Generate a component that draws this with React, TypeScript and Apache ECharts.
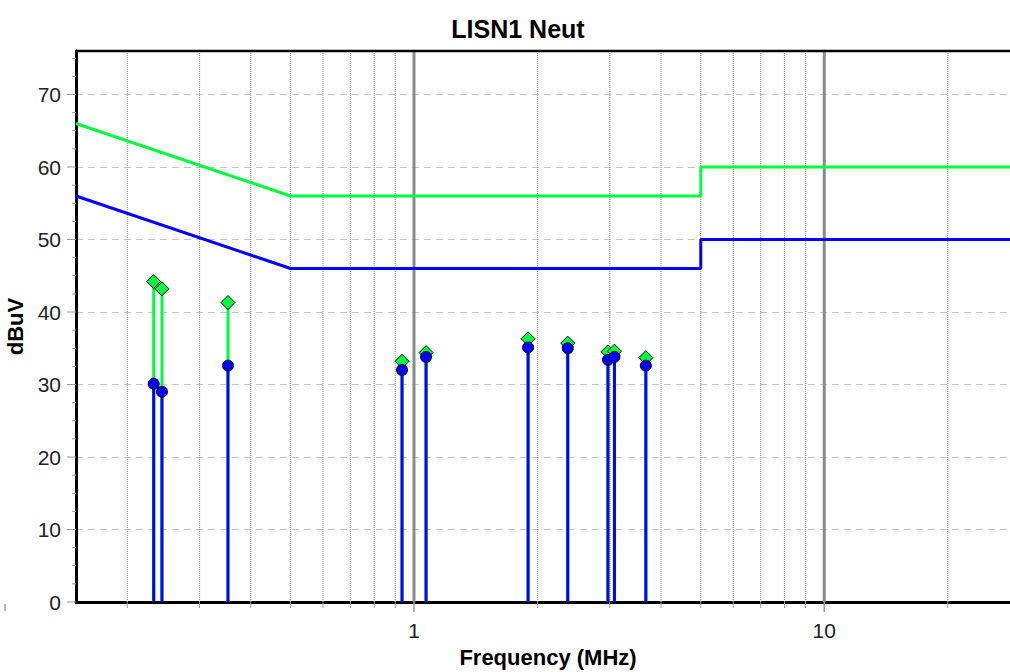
import React, { useEffect, useRef } from 'react';
import * as echarts from 'echarts';

const chartTitle = 'LISN1 Neut';
const xAxisName = 'Frequency (MHz)';
const yAxisName = 'dBuV';
const xLabelValues = [1, 10];
const xMinorGrid = [0.2, 0.3, 0.4, 0.5, 0.6, 0.7, 0.8, 0.9, 2, 3, 4, 5, 6, 7, 8, 9, 20];
const xMajorGrid = [1, 10];
const yMajorTicks = [0, 10, 20, 30, 40, 50, 60, 70];
const yMinorTicks = [2.5, 5, 7.5, 12.5, 15, 17.5, 22.5, 25, 27.5, 32.5, 35, 37.5, 42.5, 45, 47.5, 52.5, 55, 57.5, 62.5, 65, 67.5, 72.5, 75];
const qpLimit = [[0.15, 66], [0.5, 56], [5, 56], [5, 60], [30, 60]];
const avLimit = [[0.15, 56], [0.5, 46], [5, 46], [5, 50], [30, 50]];
const freqs = [0.232, 0.243, 0.352, 0.935, 1.07, 1.897, 2.37, 2.97, 3.08, 3.674];
const qpValues = [44.2, 43.2, 41.3, 33.2, 34.4, 36.3, 35.7, 34.5, 34.6, 33.7];
const avValues = [30.1, 29.0, 32.6, 32.0, 33.8, 35.1, 35.0, 33.4, 33.8, 32.6];

const FONT = "'Liberation Sans', Arial, sans-serif";
const GREEN = '#00ff40';
const BLUE = '#0000ff';
const X_MIN = 0.15;
const X_MAX = 30;
const Y_MIN = 0;
const Y_MAX = 76;
const GRID_LEFT = 76;
const GRID_TOP = 51;
const GRID_W = 944;
const GRID_H = 551;

function stemSeries(name: string, values: number[], color: string, z: number) {
  return {
    name,
    type: 'custom',
    coordinateSystem: 'cartesian2d',
    z,
    silent: true,
    data: freqs.map((f, i) => [f, values[i]]),
    encode: { x: 0, y: 1 },
    renderItem: (params: any, api: any) => {
      const p0 = api.coord([api.value(0), Y_MIN]);
      const p1 = api.coord([api.value(0), api.value(1)]);
      return {
        type: 'line',
        shape: { x1: p0[0], y1: p0[1], x2: p1[0], y2: p1[1] },
        style: { stroke: color, lineWidth: 3 },
      };
    },
  };
}

function vGridSeries(values: number[], major: boolean) {
  return {
    type: 'custom',
    coordinateSystem: 'cartesian2d',
    z: 1,
    silent: true,
    clip: false,
    data: values.map((f) => [f, Y_MIN]),
    encode: { x: 0, y: 1 },
    renderItem: (params: any, api: any) => {
      const b = api.coord([api.value(0), Y_MIN]);
      const t = api.coord([api.value(0), Y_MAX]);
      return {
        type: 'group',
        children: [
          {
            type: 'line',
            shape: { x1: b[0], y1: t[1], x2: b[0], y2: b[1] },
            style: major
              ? { stroke: '#8a8a8a', lineWidth: 3 }
              : { stroke: '#9a9a9a', lineWidth: 1.2, lineDash: [1, 1] },
          },
          {
            type: 'line',
            shape: { x1: b[0], y1: b[1], x2: b[0], y2: b[1] + (major ? 10 : 6) },
            style: { stroke: '#999999', lineWidth: major ? 1.5 : 1 },
          },
        ],
      };
    },
  };
}

function yTickSeries(values: number[], major: boolean) {
  return {
    type: 'custom',
    coordinateSystem: 'cartesian2d',
    z: 1,
    silent: true,
    clip: false,
    data: values.map((v) => [X_MIN, v]),
    encode: { x: 0, y: 1 },
    renderItem: (params: any, api: any) => {
      const p = api.coord([X_MIN, api.value(1)]);
      return {
        type: 'line',
        shape: { x1: p[0] - (major ? 9 : 4), y1: p[1], x2: p[0], y2: p[1] },
        style: { stroke: '#999999', lineWidth: 1 },
      };
    },
  };
}

export default function App() {
  const ref = useRef<HTMLDivElement>(null);
  useEffect(() => {
    if (!ref.current) return;
    const chart = echarts.init(ref.current, undefined, { renderer: 'svg' });
    chart.setOption({
      animation: false,
      backgroundColor: '#ffffff',
      title: {
        text: chartTitle,
        left: 513,
        top: 11,
        textAlign: 'center',
        textStyle: { fontFamily: FONT, fontSize: 25, fontWeight: 'bold', color: '#000' },
      },
      grid: {
        left: GRID_LEFT,
        top: GRID_TOP,
        width: GRID_W,
        height: GRID_H,
        containLabel: false,
        outerBoundsMode: 'none',
        show: false,
      },
      xAxis: {
        type: 'log',
        logBase: 10,
        min: X_MIN,
        max: X_MAX,
        name: xAxisName,
        nameLocation: 'middle',
        nameGap: 44,
        nameTextStyle: { fontFamily: FONT, fontSize: 22, fontWeight: 'bold', color: '#000' },
        axisLine: { show: true, lineStyle: { color: '#000', width: 3 } },
        axisTick: { show: false },
        splitLine: { show: false },
        axisLabel: {
          fontFamily: FONT,
          fontSize: 21,
          color: '#222',
          margin: 18,
          showMinLabel: true,
          showMaxLabel: true,
          formatter: (v: number) => {
            const m = xLabelValues.find((x) => Math.abs(x - v) < 1e-6 * x);
            return m === undefined ? '' : String(m);
          },
        },
      },
      yAxis: {
        type: 'value',
        min: Y_MIN,
        max: Y_MAX,
        interval: 10,
        name: yAxisName,
        nameLocation: 'middle',
        nameGap: 50,
        nameTextStyle: { fontFamily: FONT, fontSize: 22, fontWeight: 'bold', color: '#000' },
        axisLine: { show: true, lineStyle: { color: '#000', width: 3 } },
        axisTick: { show: false },
        splitLine: {
          show: true,
          showMinLine: false,
          showMaxLine: false,
          lineStyle: { color: '#c4c4c4', width: 1, type: [7, 5] },
        },
        axisLabel: {
          fontFamily: FONT,
          fontSize: 21,
          color: '#222',
          margin: 15,
          formatter: (v: number) => (yMajorTicks.indexOf(v) >= 0 ? String(v) : ''),
        },
      },
      graphic: [
        {
          type: 'line',
          z: 100,
          shape: { x1: GRID_LEFT, y1: GRID_TOP, x2: GRID_LEFT + GRID_W, y2: GRID_TOP },
          style: { stroke: '#000000', lineWidth: 2.5 },
        },
        {
          type: 'line',
          shape: { x1: 5, y1: 604, x2: 5, y2: 611 },
          style: { stroke: '#9a9a9a', lineWidth: 1.5 },
        },
      ],
      series: [
        vGridSeries(xMinorGrid, false),
        vGridSeries(xMajorGrid, true),
        yTickSeries(yMinorTicks, false),
        yTickSeries(yMajorTicks, true),
        {
          name: 'QP Limit',
          type: 'line',
          z: 3,
          data: qpLimit,
          showSymbol: false,
          symbol: 'none',
          lineStyle: { color: GREEN, width: 3 },
          silent: true,
        },
        {
          name: 'AV Limit',
          type: 'line',
          z: 3,
          data: avLimit,
          showSymbol: false,
          symbol: 'none',
          lineStyle: { color: BLUE, width: 3 },
          silent: true,
        },
        stemSeries('QP stems', qpValues, GREEN, 4),
        stemSeries('AV stems', avValues, BLUE, 5),
        {
          name: 'QP',
          type: 'scatter',
          z: 6,
          symbol: 'diamond',
          symbolSize: 14,
          data: freqs.map((f, i) => [f, qpValues[i]]),
          itemStyle: { color: GREEN, borderColor: '#000', borderWidth: 1, opacity: 1 },
        },
        {
          name: 'AV',
          type: 'scatter',
          z: 7,
          symbol: 'circle',
          symbolSize: 11,
          data: freqs.map((f, i) => [f, avValues[i]]),
          itemStyle: { color: BLUE, borderColor: '#000', borderWidth: 1, opacity: 1 },
        },
      ],
    });
    return () => chart.dispose();
  }, []);
  return (
    <div
      ref={ref}
      style={{ position: 'fixed', left: 0, top: 0, width: 1010, height: 672, background: '#fff' }}
    />
  );
}
